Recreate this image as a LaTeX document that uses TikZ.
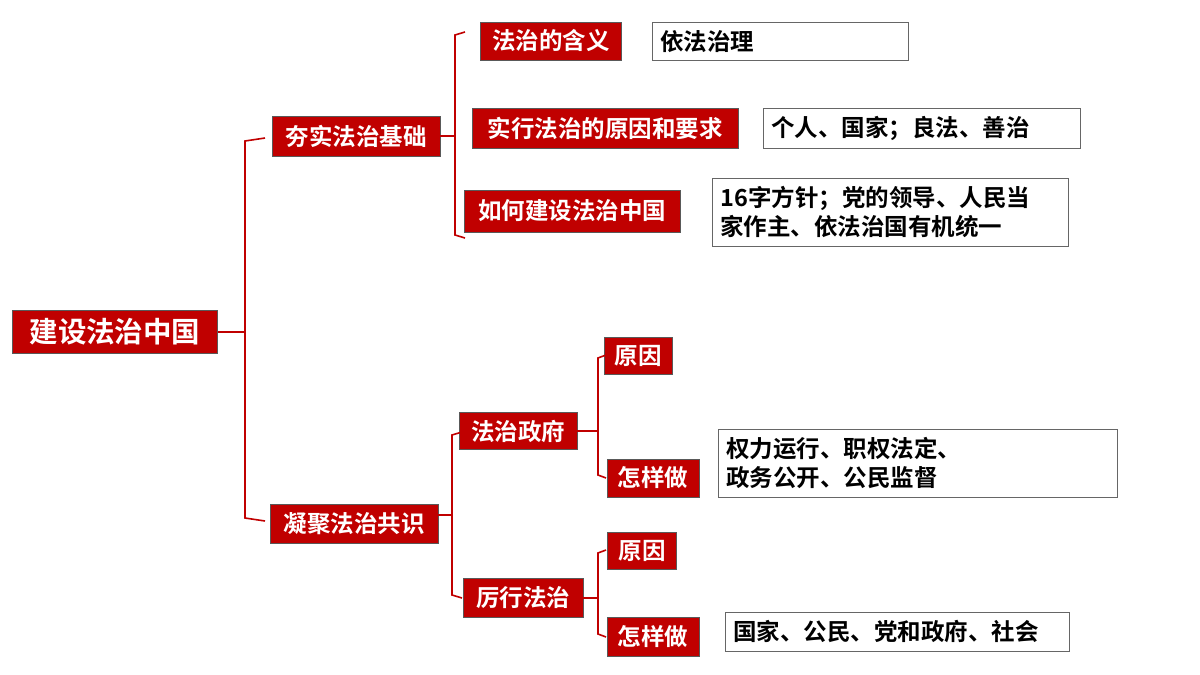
\documentclass[tikz,border=0pt]{standalone}
\usepackage{fontspec}
\setmainfont{Noto Sans CJK SC}[BoldFont={Noto Sans CJK SC Bold}]
\definecolor{dr}{HTML}{C00000}
\begin{document}
\begin{tikzpicture}[x=1pt,y=-1pt,
 rb/.style={fill=dr,draw=gray!70!black,line width=0.6pt,text=white,font=\bfseries\fontsize{23.5}{26}\selectfont,inner sep=0pt,minimum height=38pt},
 wb/.style={draw=gray!80!black,line width=0.8pt,fill=white,font=\bfseries\fontsize{23.5}{29}\selectfont,align=left,inner sep=0pt,anchor=north west,text width=#1},
 br/.style={draw=dr,line width=1.6pt}]
\useasboundingbox (0,0) rectangle (1200,675);
\node[rb,minimum width=205pt,minimum height=43pt,font=\bfseries\fontsize{28.5}{30}\selectfont] (root) at (115,332) {建设法治中国};
\node[rb,minimum width=168pt,minimum height=40pt] (a) at (356,136) {夯实法治基础};
\node[rb,minimum width=168pt,minimum height=39pt] (b) at (354,524) {凝聚法治共识};
\node[rb,minimum width=141pt] (a1) at (551,41) {法治的含义};
\node[rb,minimum width=266pt,minimum height=40pt] (a2) at (605,128) {实行法治的原因和要求};
\node[rb,minimum width=216pt,minimum height=42pt] (a3) at (572,211) {如何建设法治中国};
\node[wb=256pt,minimum height=38pt] (w1) at (652,22) {\hspace*{8pt}依法治理};
\node[wb=317pt,minimum height=40pt] (w2) at (763,108) {\hspace*{8pt}个人、国家；良法、善治};
\node[wb=356pt,minimum height=68pt] (w3) at (712,178) {\hspace*{8pt}16字方针；党的领导、人民当\\\hspace*{8pt}家作主、依法治国有机统一};
\node[rb,minimum width=118pt,minimum height=37pt] (b1) at (518,431) {法治政府};
\node[rb,minimum width=120pt,minimum height=39pt] (b2) at (523,598) {厉行法治};
\node[rb,minimum width=68pt,minimum height=37pt] (c1) at (638,356) {原因};
\node[rb,minimum width=92pt] (c2) at (653,478) {怎样做};
\node[rb,minimum width=69pt,minimum height=37pt] (d1) at (642,551) {原因};
\node[rb,minimum width=92pt,minimum height=39pt] (d2) at (653,637) {怎样做};
\node[wb=399pt,minimum height=68pt] (w4) at (718,429) {\hspace*{8pt}权力运行、职权法定、\\\hspace*{8pt}政务公开、公民监督};
\node[wb=344pt,minimum height=39pt] (w5) at (725,612) {\hspace*{8pt}国家、公民、党和政府、社会};
% braces
\draw[br] (root.east) -- (245,332);
\draw[br] (265,138) -- (245,141) -- (245,518) -- (265,521);
\draw[br] (a.east) -- (455,136);
\draw[br] (465,32) -- (455,35) -- (455,235) -- (465,238);
\draw[br] (b.east |- 0,515) -- (452,515);
\draw[br] (462,432) -- (452,435) -- (452,595) -- (462,598);
\draw[br] (b1.east) -- (598,431);
\draw[br] (606,355) -- (598,358) -- (598,475) -- (606,478);
\draw[br] (b2.east) -- (598,598);
\draw[br] (606,550) -- (598,553) -- (598,634) -- (606,637);
\end{tikzpicture}
\end{document}
